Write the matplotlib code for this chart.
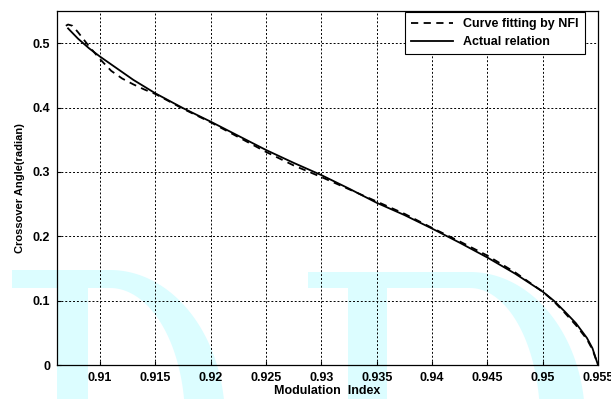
import numpy as np
import matplotlib
matplotlib.use("Agg")
import matplotlib.pyplot as plt
from matplotlib.patches import Polygon

plt.rcParams['font.family'] = ['Liberation Sans', 'DejaVu Sans']
plt.rcParams['font.weight'] = 'bold'

# actual relation (solid)
m_actual = [0.9071, 0.908, 0.909, 0.91, 0.9115, 0.913, 0.915, 0.9175, 0.92, 0.9225,
            0.925, 0.9275, 0.93, 0.9325, 0.935, 0.9375, 0.94, 0.9425, 0.945, 0.9475,
            0.95, 0.951, 0.952, 0.953, 0.954, 0.9545, 0.955]
a_actual = [0.523, 0.507, 0.492, 0.479, 0.461, 0.443, 0.422, 0.399, 0.378, 0.356,
            0.334, 0.314, 0.295, 0.274, 0.252, 0.233, 0.212, 0.190, 0.167, 0.142,
            0.114, 0.100, 0.083, 0.065, 0.042, 0.026, 0.0]

# curve fitting by NFI (dashed)
m_fit = [0.9069, 0.9071, 0.9075, 0.908, 0.909, 0.91, 0.911, 0.912, 0.913, 0.914,
         0.915, 0.9175, 0.92, 0.9225, 0.925, 0.9275, 0.93, 0.9325, 0.935, 0.9375,
         0.94, 0.9425, 0.945, 0.9475, 0.95, 0.951, 0.952, 0.953, 0.954, 0.9545, 0.955]
a_fit = [0.527, 0.529, 0.527, 0.517, 0.495, 0.475, 0.457, 0.445, 0.436, 0.428,
         0.421, 0.398, 0.377, 0.354, 0.331, 0.310, 0.292, 0.273, 0.254, 0.235,
         0.213, 0.192, 0.170, 0.144, 0.114, 0.099, 0.081, 0.062, 0.040, 0.024, 0.0]

xticks = [0.91, 0.915, 0.92, 0.925, 0.93, 0.935, 0.94, 0.945, 0.95, 0.955]
xticklabels = ['0.91', '0.915', '0.92', '0.925', '0.93', '0.935', '0.94', '0.945', '0.95', '0.955']
yticks = [0, 0.1, 0.2, 0.3, 0.4, 0.5]
yticklabels = ['0', '0.1', '0.2', '0.3', '0.4', '0.5']

fig = plt.figure(figsize=(6.11, 3.99), dpi=100)

# watermark in background (pixel coords)
bg = fig.add_axes([0, 0, 1, 1], zorder=-1)
bg.set_xlim(0, 611)
bg.set_ylim(399, 0)
bg.axis('off')
wm = '#dcfdff'


def arc_band(cx, cy, a_out, b_out, a_in, b_in):
    t = np.linspace(np.pi / 2, 0, 60)
    outer = [(cx + a_out * np.cos(s), cy - b_out * np.sin(s)) for s in t]
    inner = [(cx + a_in * np.cos(s), cy - b_in * np.sin(s)) for s in t[::-1]]
    return outer + [(cx + a_out, 420), (cx + a_in, 420)] + inner


# left "D" (white to the left of the axes below its top band)
d_poly = [(12, 270)] + arc_band(110, 420, 115, 150, 75, 132) + [(88, 288), (88, 420), (57, 420), (57, 288), (12, 288)]
bg.add_patch(Polygon(d_poly, closed=True, color=wm, lw=0))
# right "T" + arc
t_poly = [(308, 272)] + arc_band(470, 420, 115, 148, 70, 132) + [(387, 288), (387, 420), (348, 420), (348, 288), (308, 288)]
bg.add_patch(Polygon(t_poly, closed=True, color=wm, lw=0))

ax = fig.add_axes([57 / 611, 34 / 399, 541 / 611, 354 / 399])
ax.patch.set_alpha(0)

ax.plot(m_fit, a_fit, color='black', lw=1.3, ls=(0, (4, 3)), label='Curve fitting by NFI')
ax.plot(m_actual, a_actual, color='black', lw=1.3, ls='-', label='Actual relation')

ax.set_xlim(0.9061, 0.955)
ax.set_ylim(0, 0.55)
ax.set_xticks(xticks)
ax.set_xticklabels(xticklabels)
ax.set_yticks(yticks)
ax.set_yticklabels(yticklabels)
ax.tick_params(direction='in', length=3, width=0.8, labelsize=9, pad=5)
ax.grid(True, color='black', lw=0.7, ls=(0, (2, 2)))
for s in ax.spines.values():
    s.set_linewidth(0.9)

ax.set_xlabel('Modulation  Index', fontsize=9, fontweight='bold', labelpad=1)
ax.set_ylabel('Crossover Angle(radian)', fontsize=8, fontweight='bold', labelpad=5)

leg = ax.legend(loc='upper right', bbox_to_anchor=(0.976, 0.997), borderaxespad=0,
                fancybox=False, framealpha=1, edgecolor='black', handlelength=3.4,
                prop={'size': 9, 'weight': 'bold'}, borderpad=0.5, labelspacing=0.45,
                handletextpad=0.8)
leg.get_frame().set_linewidth(0.8)

fig.savefig('out.png', dpi=100)
